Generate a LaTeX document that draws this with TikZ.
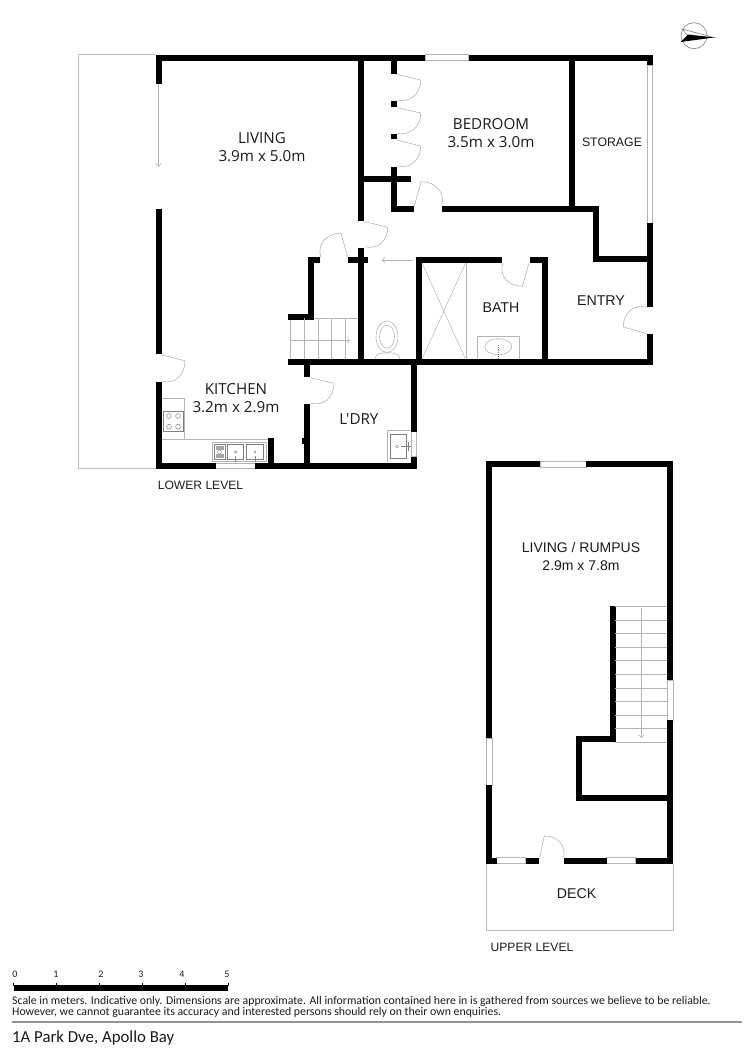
\documentclass[tikz,border=0pt]{standalone}
\usepackage{fontspec}
\setmainfont{Liberation Sans}
\newfontfamily\roomfont{Open Sans}
\newfontfamily\notefont{Carlito}
\usetikzlibrary{calc,arrows.meta}
\definecolor{hair}{HTML}{B4B4B4}
\definecolor{ink}{HTML}{1A1A1A}
\tikzset{
  wall/.style={line width=6pt,black,line cap=butt,line join=miter},
  fine/.style={line width=0.6pt,draw=hair},
  finer/.style={line width=0.5pt,draw=hair},
  outline/.style={line width=1pt,draw=hair!85!white},
  pane/.style={line width=0.7pt,draw=hair,fill=white},
  roomlabel/.style={font=\roomfont\fontsize{15.2}{18}\selectfont,text=ink,align=center,inner sep=0pt},
  tag/.style={font=\fontsize{14.2}{17}\selectfont,text=ink,inner sep=0pt},
  leveltag/.style={font=\fontsize{12.1}{15}\selectfont,text=ink,inner sep=0pt},
  note/.style={font=\notefont\fontsize{11.8}{12}\selectfont,text=ink,inner sep=0pt,anchor=west},
  tick/.style={font=\notefont\fontsize{10}{10}\selectfont,text=ink,inner sep=0pt},
  thinarrow/.style={fine,-{Straight Barb[length=3pt,width=6pt,line width=0.5pt]}},
}
\newcommand{\doorleaf}[3]{\draw[fine] (#1) -- (#2) .. controls ($(#2)+0.55*(#3)-0.55*(#1)$) and ($(#3)+0.55*(#2)-0.55*(#1)$) .. (#3);}
\begin{document}
\begin{tikzpicture}[x=1pt,y=-1pt]
\useasboundingbox (0,0) rectangle (750,1061);
% outer deck line lower level
\draw[outline] (156,54.8) -- (78.7,54.8) -- (78.7,468.5) -- (156,468.5);
% lower-level windows
\draw[pane] (425,54.5) rectangle (468.5,60.5);
\draw[pane] (646.9,65) rectangle (652.7,223);
\draw[pane] (215.7,462.9) rectangle (255,468.7);
\draw[pane] (410.9,431.7) rectangle (416.7,456.7);
% lower-level walls
\draw[wall] (158.5,84) -- (158.5,57.5) -- (425,57.5);
\draw[wall] (468.5,57.5) -- (649.7,57.5) -- (649.7,65);
\draw[wall] (158.7,208.7) -- (158.7,354);
\draw[wall] (158.7,382) -- (158.7,465.7) -- (215.7,465.7);
\draw[wall] (255,465.7) -- (416.7,465.7);
\draw[wall] (413.7,362) -- (413.7,431.7);
\draw[wall] (413.7,456.7) -- (413.7,468.7);
\draw[wall] (361.3,57) -- (361.3,220.7);
\draw[wall] (361.3,248) -- (361.3,362);
\draw[wall] (361,178.7) -- (410.7,178.7);
\draw[wall] (393.7,57) -- (393.7,74);
\draw[wall] (393.7,101.3) -- (393.7,106.7);
\draw[wall] (393.7,134) -- (393.7,139.3);
\draw[wall] (393.7,166.7) -- (393.7,209.3) -- (414.3,209.3);
\draw[wall] (441.7,209.3) -- (596.3,209.3) -- (596.3,258.7) -- (649.7,258.7);
\draw[wall] (572.3,57) -- (572.3,209.3);
\draw[wall] (649.7,223) -- (649.7,306.7);
\draw[wall] (649.7,334.3) -- (649.7,364.7);
\draw[wall] (287.7,361.7) -- (652.7,361.7);
\draw[wall] (418.7,361.7) -- (418.7,260.3) -- (502.3,260.3);
\draw[wall] (529.7,260.3) -- (545.3,260.3) -- (545.3,361.7);
\draw[wall] (320.3,260.3) -- (310.7,260.3) -- (310.7,317.3) -- (287.7,317.3);
\draw[wall] (348,260.3) -- (367.7,260.3);
\draw[wall] (307.3,362) -- (307.3,377);
\draw[wall] (307.3,404.3) -- (307.3,465.7);
\draw[wall] (271,438.3) -- (271,465.7);
\fill (302.3,438) rectangle (304.6,444);
% doors lower level
\doorleaf{365,221.7}{387.7,227.3}{365,246.7}
\doorleaf{347.7,257.3}{341,233.3}{320.7,257.3}
\doorleaf{396.7,74.3}{420.7,80}{396.7,100}
\doorleaf{396.7,107.7}{420.7,113}{396.7,133.3}
\doorleaf{396.7,140}{420.7,146}{396.7,166}
\doorleaf{414.3,206}{421,181.7}{441.7,206}
\doorleaf{529,263}{522.3,286.3}{502.7,263}
\doorleaf{647,333.7}{623.3,327}{647,307.3}
\doorleaf{162,355}{185,360.7}{162,381.3}
\doorleaf{311,377.7}{334,383.3}{311,403.3}
% arrows
\draw[thinarrow] (158.3,84) -- (158.3,166.7);
\draw[thinarrow] (412.7,260) -- (381.7,260);
% lower stairs
\draw[finer] (290.7,320.3) -- (290.7,358.7);
\draw[finer] (304.7,318.3) -- (304.7,358.7);
\draw[finer] (318.3,318.3) -- (318.3,358.7);
\draw[finer] (331.7,318.3) -- (331.7,358.7);
\draw[finer] (345.3,318.3) -- (345.3,358.7);
\draw[finer] (313.7,318.3) -- (358.3,318.3);
\draw[thinarrow] (290.7,340) -- (350,340);
% toilet
\draw[fine] (387,336.7) ellipse [x radius=11,y radius=15.7];
\draw[fine] (387,336.7) ellipse [x radius=7.5,y radius=11.5];
\draw[fine] (375,358.7) .. controls (376,354) and (380,353) .. (383,353) -- (391,353) .. controls (395,353) and (399,354) .. (400,358.7);
% shower
\draw[finer] (466,263) -- (466,358.7);
\draw[finer] (422.3,263.5) -- (465.3,358.5);
\draw[finer] (465.3,263.5) -- (422.3,358.5);
% bath basin
\draw[finer] (477.7,358.7) -- (477.7,336.3) -- (519.3,336.3) -- (519.3,358.7);
\draw[fine] (498.3,346.7) ellipse [x radius=13.5,y radius=8];
\draw[line width=0.8pt,gray,densely dotted] (498.3,345) -- (498.3,358);
% kitchen bench
\draw[finer] (162,398) -- (184,398) -- (184,439.3);
\draw[finer] (162,439.3) -- (268,439.3);
\draw[line width=0.7pt,draw=gray,fill=white] (163.3,411.3) rectangle (183.3,431);
\foreach \bx/\by in {169/416,178/416,169/426.7,178/426.7}
  \draw[line width=0.5pt,draw=gray] (\bx,\by) circle [radius=2.4];
% kitchen sink
\draw[finer] (212.3,442.3) rectangle (266.3,461.7);
\draw[line width=0.6pt,draw=gray] (214,444.7) rectangle (225,459.3);
\fill[gray!70] (215.5,446) rectangle (223.5,450);
\fill[gray!70] (215.5,454) rectangle (223.5,458);
\draw[line width=0.4pt,draw=gray] (219.5,452) circle [radius=2];
\draw[line width=0.5pt,draw=gray] (227.3,444.7) rectangle (243.3,459.3);
\draw[line width=0.5pt,draw=gray] (246.7,444.7) rectangle (263.3,459.3);
\foreach \sx in {235.7,255}{
  \draw[line width=0.4pt,draw=gray] (\sx,452) circle [radius=1.2];
  \draw[line width=0.6pt,gray] (\sx,456) -- (\sx,461.5);}
% laundry sink
\draw[finer] (410.9,430.7) -- (387.7,430.7) -- (387.7,461.7);
\draw[line width=0.5pt,draw=gray] (390,434.3) rectangle (406.7,458.3);
\draw[line width=0.4pt,draw=gray] (397,446.3) circle [radius=1.5];
\draw[line width=0.6pt,gray] (401,446.3) -- (410.5,446.3);
\draw[line width=0.5pt,gray] (408,442) -- (408,451);
% upper level
\draw[pane] (540,461) rectangle (586,467);
\draw[pane] (667.3,680) rectangle (673.3,720);
\draw[pane] (486.3,738) rectangle (492.3,785);
\draw[pane] (496.7,857.7) rectangle (525.5,863.7);
\draw[pane] (606.7,857.7) rectangle (635.7,863.7);
\draw[wall] (489.3,738) -- (489.3,464) -- (540,464);
\draw[wall] (586,464) -- (670.3,464) -- (670.3,680);
\draw[wall] (670.3,720) -- (670.3,860.7) -- (635.7,860.7);
\draw[wall] (606.7,860.7) -- (564.3,860.7);
\draw[wall] (538.7,860.7) -- (525.5,860.7);
\draw[wall] (496.7,860.7) -- (489.3,860.7) -- (489.3,785);
\draw[wall] (612.5,606) -- (612.5,739) -- (579.3,739) -- (579.3,797.5) -- (670.3,797.5);
\doorleaf{539.7,857.3}{544.3,836}{563.7,857}
% deck
\draw[outline] (486.6,864) -- (486.6,930.7) -- (673.3,930.7) -- (673.3,864);
% upper stairs
\foreach \ty in {606,620,633.3,647,660.7,674.3,688,701.3,715,728.3,742}
  \draw[finer] (615.3,\ty) -- (667.3,\ty);
\draw[thinarrow] (641.3,607.7) -- (641.3,738);
% compass
\draw[line width=0.6pt,gray] (694,35.7) circle [radius=13];
\draw[line width=0.6pt,draw=gray,fill=white] (682,29) -- (714,37.5) -- (688,36) -- cycle;
\fill[black] (680.5,42) -- (688,34.5) -- (714,37.5) -- cycle;
% room labels
\node[roomlabel] (living) at (262,147.5) {LIVING\\3.9m x 5.0m};
\node[roomlabel] (bedroom) at (491,133.5) {BEDROOM\\3.5m x 3.0m};
\node[roomlabel] (kitchen) at (236,398.5) {KITCHEN\\3.2m x 2.9m};
\node[roomlabel] (laundry) at (359,419) {L'DRY};
\node[tag,align=center,font=\fontsize{14}{18.4}\selectfont] (rumpus) at (581,556.5) {LIVING / RUMPUS\\2.9m x 7.8m};
\node[tag,font=\fontsize{12.3}{15}\selectfont] (storage) at (612,142) {STORAGE};
\node[tag] (bath) at (501,307.7) {BATH};
\node[tag] (entry) at (601,301) {ENTRY};
\node[tag] (deck) at (576.7,894) {DECK};
\node[leveltag] (lower) at (200.5,485) {LOWER LEVEL};
\node[leveltag] (upper) at (532,947.7) {UPPER LEVEL};
% scale bar
\fill[black] (13.5,985) rectangle (228,990.5);
\foreach \tx in {13.5,56,99.5,142.5,185,228}
  \draw[line width=0.5pt,black] (\tx,982.5) -- (\tx,986);
\node[tick] (s0) at (15,974.5) {0};
\node[tick] (s1) at (56,974.5) {1};
\node[tick] (s2) at (101,974.5) {2};
\node[tick] (s3) at (141,974.5) {3};
\node[tick] (s4) at (182,974.5) {4};
\node[tick] (s5) at (227,974.5) {5};
% notes
\node[note] (n1) at (12,1001.5) {Scale in meters. Indicative only. Dimensions are approximate. All information contained here in is gathered from sources we believe to be reliable.};
\node[note] (n2) at (12,1012.5) {However, we cannot guarantee its accuracy and interested persons should rely on their own enquiries.};
\draw[line width=2pt,gray!85] (12,1021.5) -- (742,1021.5);
\node[note,font=\notefont\fontsize{16.8}{18}\selectfont] (addr) at (12,1038.5) {1A Park Dve, Apollo Bay};
\end{tikzpicture}
\end{document}
